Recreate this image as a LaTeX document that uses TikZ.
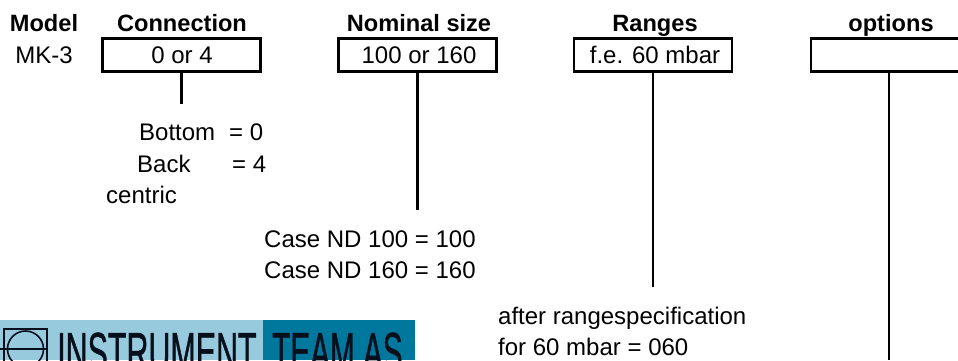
\documentclass[tikz,border=0pt]{standalone}
\usepackage{graphicx}
\usepackage{fontspec}
\setmainfont{Liberation Sans}
\newfontfamily\logofont[FakeBold=1.2]{Liberation Sans}
\definecolor{lightlogo}{HTML}{97CADD}
\definecolor{darklogo}{HTML}{00789E}
\definecolor{logoink}{HTML}{06101C}
\tikzset{
  x=1pt,y=-1pt,
  headlabel/.style={font=\fontsize{23.6}{26}\selectfont\bfseries,inner sep=0pt,anchor=base},
  bodylabel/.style={font=\fontsize{24}{26}\selectfont,inner sep=0pt,anchor=base},
  leftlabel/.style={bodylabel,anchor=base west},
  fieldbox/.style={draw=black,line width=2.7pt,inner sep=0pt,minimum height=33pt},
  boxtext/.style={bodylabel},
  leader/.style={draw=black,line width=2.7pt},
  logotext/.style={font=\logofont\fontsize{55}{55}\selectfont,text=logoink,inner sep=0pt,anchor=base west}
}
\begin{document}
\begin{tikzpicture}
\useasboundingbox (0,0) rectangle (958,360);
\begin{scope}
\clip (0,0) rectangle (958,360);
% logo
\fill[lightlogo] (0,320) rectangle (263,360);
\fill[darklogo] (263,320) rectangle (415,360);
\draw[logoink,line width=1.6pt] (4,329) rectangle (47,375);
\draw[logoink,line width=1.6pt] (25.5,349) circle (18);
\draw[logoink,line width=1.6pt] (0,349) -- (47,349);
\node[logotext] (inst) at (57,371) {\scalebox{0.553}[1]{INSTRUMENT}};
\node[logotext] (team) at (272,371) {\scalebox{0.54}[1]{TEAM AS}};
% boxes
\node[fieldbox,minimum width=158pt] (conn) at (181.5,55) {};
\node[fieldbox,minimum width=158pt] (nom) at (417.5,55) {};
\node[fieldbox,minimum width=158pt] (rng) at (653,55) {};
\node[fieldbox,minimum width=178pt] (opt) at (900,55) {};
% connector ends
\coordinate (connend) at (181.5,104);
\coordinate (nomend) at (417.5,210);
\coordinate (rngend) at (653,287);
\coordinate (optend) at (889,360);
\draw[leader] (conn.south) -- (connend);
\draw[leader] (nom.south) -- (nomend);
\draw[leader] (rng.south) -- (rngend);
\draw[leader] (opt.south -| optend) -- (optend);
\end{scope}
% box texts
\node[boxtext] (tconn) at (182,63) {0 or 4};
\node[boxtext] (tnom) at (419,63) {100 or 160};
\node[boxtext] (trng) at (655,63) {f.e. 60 mbar};
% headings
\node[headlabel] (hmodel) at (44,31) {Model};
\node[headlabel] (hconn) at (182,31) {Connection};
\node[headlabel] (hnom) at (419,31) {Nominal size};
\node[headlabel] (hrng) at (655,31) {Ranges};
\node[headlabel] (hopt) at (891,31) {options};
\node[bodylabel] (mk) at (44,63) {MK-3};
% notes
\node[leftlabel] (n1) at (139,140) {Bottom};
\node[leftlabel] (n1b) at (229,140) {= 0};
\node[leftlabel] (n2) at (137,172) {Back};
\node[leftlabel] (n2b) at (232,172) {= 4};
\node[leftlabel] (n3) at (106,203) {centric};
\node[leftlabel] (n4) at (264,247) {Case ND 100 = 100};
\node[leftlabel] (n5) at (264,278) {Case ND 160 = 160};
\node[leftlabel] (n6) at (498,324) {after rangespecification};
\node[leftlabel] (n7) at (498,355) {for 60 mbar = 060};
\end{tikzpicture}
\end{document}
